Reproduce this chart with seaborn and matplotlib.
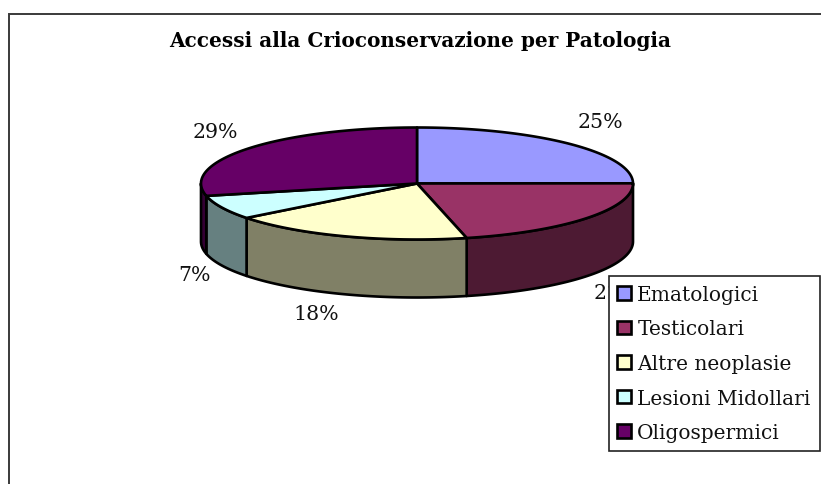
import numpy as np
import matplotlib
matplotlib.use("Agg")
import matplotlib.pyplot as plt
from matplotlib.patches import Patch, Rectangle
import seaborn as sns

title = "Accessi alla Crioconservazione per Patologia"
categories = ["Ematologici", "Testicolari", "Altre neoplasie", "Lesioni Midollari", "Oligospermici"]
shares = [25.0, 21.4, 18.2, 7.0, 28.6]
colors = ["#9999FF", "#993366", "#FFFFCC", "#CCFFFF", "#660066"]

sns.set_theme(style="white")
plt.rcParams["font.family"] = ["DejaVu Serif"]
W, H = 821, 485
fig = plt.figure(figsize=(W / 100, H / 100), dpi=100)
ax = fig.add_axes([0, 0, 1, 1])
ax.set_xlim(0, W)
ax.set_ylim(H, 0)
ax.axis("off")

palette = sns.color_palette(colors)
CX, CY, RX, RY, DEPTH = 417, 184.5, 216, 56, 58
LW = 1.9

def rim(deg):
    t = np.radians(deg)
    return CX + RX * np.sin(t), CY - RY * np.cos(t)

ax.add_patch(Rectangle((8.5, 14.5), W, H, fc="white", ec="#3a3a3a", lw=1.4, zorder=0))

edges = np.cumsum([0] + shares) / np.sum(shares) * 360

# side walls: visible only on the front half of the disc
for a, b, c in zip(edges[:-1], edges[1:], palette):
    lo, hi = max(a, 90), min(b, 270)
    if lo < hi:
        th = np.linspace(lo, hi, 80)
        x, y = rim(th)
        xs = np.r_[x, x[::-1]]
        ys = np.r_[y, y[::-1] + DEPTH]
        ax.fill(xs, ys, fc=tuple(v * 0.5 for v in c), ec="black", lw=LW, joinstyle="round", zorder=2)

# top faces
for a, b, c in zip(edges[:-1], edges[1:], palette):
    th = np.linspace(a, b, 120)
    x, y = rim(th)
    ax.fill(np.r_[CX, x], np.r_[CY, y], fc=c, ec="black", lw=LW, joinstyle="round", zorder=3)

# percentage labels
targets = [(600, 123), (616, 294), (316, 315), (194, 276), (215, 133)]
for s, (tx, ty) in zip(shares, targets):
    ax.annotate(f"{s:.0f}%", xy=(tx, ty), ha="center", va="center", fontsize=14.8, color="#111111", zorder=4)

ax.text(420, 41, title, ha="center", va="center", fontsize=14.4, fontweight="bold", color="black")

handles = [Patch(fc=c, ec="black", lw=1.9) for c in palette]
leg = ax.legend(handles, categories, loc="upper left", bbox_to_anchor=(608.5, 277), bbox_transform=ax.transData,
                fontsize=14.5, frameon=True, fancybox=False, framealpha=1, edgecolor="#222222",
                handlelength=0.67, handleheight=0.67, handletextpad=0.32, labelspacing=0.775,
                borderpad=0.44, borderaxespad=0, labelcolor="#111111")
leg.get_frame().set_linewidth(1.2)
leg.set_zorder(6)

fig.savefig("out.png", dpi=100, facecolor="white")
